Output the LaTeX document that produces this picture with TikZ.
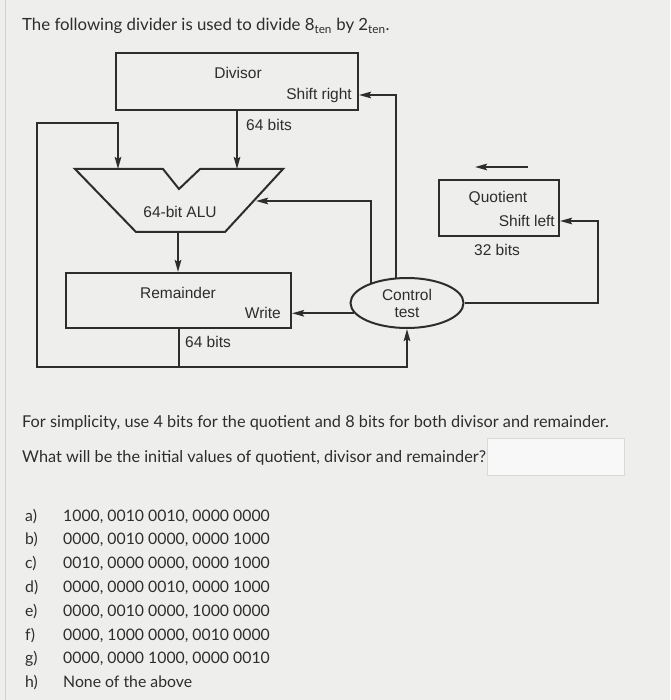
\documentclass[tikz,border=0pt]{standalone}
\usepackage{fontspec}
\setmainfont{Lato}
\newfontfamily\diagfont{Liberation Sans}
\newfontfamily\optfont[Numbers=Monospaced]{Lato}
\usetikzlibrary{arrows.meta,shapes.geometric}
\definecolor{pagebg}{RGB}{238,238,237}
\definecolor{ink}{RGB}{45,45,45}
\definecolor{txt}{RGB}{45,45,45}

\begin{document}
\begin{tikzpicture}[x=1pt,y=-1pt,>={Stealth[length=12pt,width=6.5pt,inset=2pt]},
  box/.style={draw=ink,line width=2pt,inner sep=0pt},
  dlbl/.style={text=ink,font=\diagfont\fontsize{15.5}{17}\selectfont,inner sep=0pt},
  wire/.style={->,draw=ink,line width=2pt},
  qtext/.style={text=txt,font=\fontsize{16.3}{19}\selectfont,inner sep=0pt,anchor=base west},
  otext/.style={text=txt,font=\optfont\fontsize{15.8}{19}\selectfont,inner sep=0pt,anchor=base west}]
  \fill[pagebg] (0,0) rectangle (670,700);
  \useasboundingbox (0,0) rectangle (670,700);
  \draw[gray!35,line width=1pt] (5,0) -- (5,700);

  \node[qtext,font=\fontsize{16.8}{19}\selectfont] (title) at (22,31) {The following divider is used to divide 8\textsubscript{ten} by 2\textsubscript{ten}.};

  \node[box,minimum width=242pt,minimum height=57pt] (divisor) at (237,81.5) {};
  \node[dlbl] (divlbl) at (238,73) {Divisor};
  \node[dlbl,anchor=east] (shr) at (352,95) {Shift right};
  \node[dlbl,anchor=west] (bits1) at (246,125) {64 bits};

  \draw[box] (75,169) -- (163,169) -- (179,189) -- (200,169) -- (283,169) -- (225,232) -- (136,232) -- cycle;
  \coordinate (alu-l) at (118,169);
  \coordinate (alu-r) at (237,169);
  \coordinate (alu-s) at (256,201);
  \coordinate (alu-out) at (178,232);
  \node[dlbl] (alulbl) at (180,212) {64-bit ALU};

  \node[box,minimum width=225pt,minimum height=55pt] (remainder) at (178.5,300.5) {};
  \node[dlbl] (remlbl) at (178,293) {Remainder};
  \node[dlbl,anchor=east] (wrt) at (281,313) {Write};
  \node[dlbl,anchor=west] (bits2) at (185,342) {64 bits};

  \node[box,ellipse,minimum width=113pt,minimum height=50pt,align=center,dlbl] (control) at (407,303) {Control\\test};

  \node[box,minimum width=120pt,minimum height=56pt] (quotient) at (499,208) {};
  \node[dlbl] (quolbl) at (498,198) {Quotient};
  \node[dlbl,anchor=east] (shl) at (555,221) {Shift left};
  \node[dlbl] (bits3) at (497,250) {32 bits};

  \coordinate (lbot) at (37,367);
  \coordinate (ltop) at (37,123);
  \coordinate (qturn) at (598,221);
  \coordinate (qa1) at (528,167);
  \coordinate (qa2) at (475,167);

  \draw[wire] (divisor.south) -- (alu-r);
  \draw[wire] (alu-out) -- (remainder.north -| alu-out);
  \draw[wire] (remainder.south) -- (remainder.south |- lbot) -- (lbot) -- (ltop) -| (alu-l);
  \draw[wire] (remainder.south |- lbot) -| (control.south);
  \draw[wire] (control.114) |- (divisor.east |- shr);
  \draw[wire] (control.151) |- (alu-s);
  \draw[wire] (control.191) -- (remainder.east |- control.191);
  \draw[wire] (control.east) -| (qturn) -- (quotient.east |- qturn);
  \draw[wire] (qa1) -- (qa2);

  \node[qtext] (q1) at (22,427) {For simplicity, use 4 bits for the quotient and 8 bits for both divisor and remainder.};
  \node[qtext] (q2) at (22,462) {What will be the initial values of quotient, divisor and remainder?};
  \node[draw=gray!30,fill=white!60!pagebg,line width=1pt,minimum width=137pt,minimum height=37pt,inner sep=0pt] (ansbox) at (555.5,456.5) {};

  \node[otext] (la) at (25,521) {a)};
  \node[otext] (va) at (63,521) {1000, 0010 0010, 0000 0000};
  \node[otext] (lb) at (25,544.8) {b)};
  \node[otext] (vb) at (63,544.8) {0000, 0010 0000, 0000 1000};
  \node[otext] (lc) at (25,568.6) {c)};
  \node[otext] (vc) at (63,568.6) {0010, 0000 0000, 0000 1000};
  \node[otext] (ld) at (25,592.4) {d)};
  \node[otext] (vd) at (63,592.4) {0000, 0000 0010, 0000 1000};
  \node[otext] (le) at (25,616.2) {e)};
  \node[otext] (ve) at (63,616.2) {0000, 0010 0000, 1000 0000};
  \node[otext] (lf) at (25,640) {f)};
  \node[otext] (vf) at (63,640) {0000, 1000 0000, 0010 0000};
  \node[otext] (lg) at (25,663.8) {g)};
  \node[otext] (vg) at (63,663.8) {0000, 0000 1000, 0000 0010};
  \node[otext] (lh) at (25,687.6) {h)};
  \node[otext] (vh) at (63,687.6) {None of the above};
\end{tikzpicture}
\end{document}
